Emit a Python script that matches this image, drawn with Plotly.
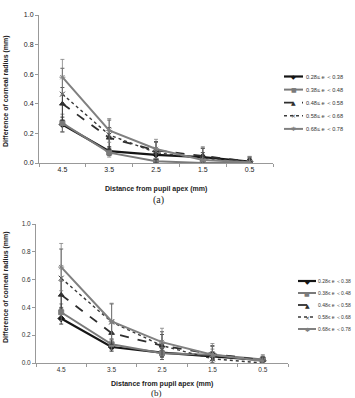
import plotly.graph_objects as go

categories = ["4.5", "3.5", "2.5", "1.5", "0.5"]
series_names = ["0.28≤ e ＜0.38", "0.38≤ e ＜0.48", "0.48≤ e ＜0.58", "0.58≤ e ＜0.68", "0.68≤ e ＜0.78"]

# panel (a)
a_s1 = [0.26, 0.08, 0.055, 0.04, 0.01]
a_s2 = [0.27, 0.07, 0.012, 0.0, 0.0]
a_s3 = [0.40, 0.17, 0.085, 0.05, 0.01]
a_s4 = [0.465, 0.19, 0.07, 0.03, 0.01]
a_s5 = [0.58, 0.22, 0.095, 0.02, 0.005]
a_e1 = [0.05, 0.03, 0.03, 0.03, 0.02]
a_e2 = [0.06, 0.03, 0.02, 0.02, 0.02]
a_e3 = [0.11, 0.07, 0.06, 0.05, 0.03]
a_e4 = [0.175, 0.10, 0.07, 0.07, 0.03]
a_e5 = [0.12, 0.08, 0.065, 0.09, 0.04]

# panel (b)
b_s1 = [0.32, 0.115, 0.075, 0.05, 0.02]
b_s2 = [0.365, 0.135, 0.07, 0.06, 0.025]
b_s3 = [0.49, 0.215, 0.125, 0.065, 0.02]
b_s4 = [0.61, 0.295, 0.125, 0.03, 0.0]
b_s5 = [0.69, 0.30, 0.15, 0.06, 0.015]
b_e1 = [0.04, 0.03, 0.03, 0.03, 0.02]
b_e2 = [0.06, 0.04, 0.03, 0.04, 0.02]
b_e3 = [0.10, 0.08, 0.08, 0.06, 0.03]
b_e4 = [0.21, 0.13, 0.10, 0.09, 0.04]
b_e5 = [0.17, 0.13, 0.10, 0.08, 0.045]

colors = ["#151515", "#7a7a7a", "#2e2e2e", "#3a3a3a", "#808080"]
dashes = ["solid", "solid", "dash", "dot", "solid"]
symbols = ["diamond", "square", "triangle-up", "x-thin-open", "asterisk-open"]
glyphs = ["◆", "■", "▲", "×", "✱"]
widths = [2.2, 2.0, 1.8, 1.4, 2.0]

W, H = 355, 398
def px(x): return x / W
def py(y): return 1 - y / H

fig = go.Figure()

def add_panel(vals, errs, xa, ya):
    for i, (v, e) in enumerate(zip(vals, errs)):
        fig.add_trace(go.Scatter(
            x=categories, y=v, name=series_names[i], mode="lines+markers",
            xaxis=xa, yaxis=ya, showlegend=False,
            line=dict(color=colors[i], width=widths[i], dash=dashes[i]),
            marker=dict(symbol=symbols[i], size=5, color=colors[i],
                        line=dict(color=colors[i], width=1)),
            error_y=dict(type="data", array=e, visible=True, color=colors[i],
                         thickness=0.8, width=2),
        ))

add_panel([a_s1, a_s2, a_s3, a_s4, a_s5], [a_e1, a_e2, a_e3, a_e4, a_e5], "x", "y")
add_panel([b_s1, b_s2, b_s3, b_s4, b_s5], [b_e1, b_e2, b_e3, b_e4, b_e5], "x2", "y2")

tickfont_a = dict(family="Liberation Sans", size=7, color="#222")
tickfont_b = dict(family="Liberation Sans", size=6.5, color="#333")
xcommon = dict(type="category", range=[-0.5, 4.5], showline=True, linecolor="#999",
               ticks="outside", tickson="boundaries", ticklen=3, tickcolor="#999",
               showgrid=False, zeroline=False, fixedrange=True)
ycommon = dict(range=[0, 1.0], dtick=0.2, tickformat=".1f", showline=True, linecolor="#999",
               ticks="outside", ticklen=3, tickcolor="#999", showgrid=False,
               zeroline=False, fixedrange=True)

fig.update_layout(
    width=W, height=H, margin=dict(l=0, r=0, t=0, b=0, autoexpand=False),
    paper_bgcolor="white", plot_bgcolor="white", showlegend=False,
    xaxis=dict(domain=[px(39), px(273)], anchor="y", tickfont=tickfont_a, **xcommon),
    yaxis=dict(domain=[py(163), py(15)], anchor="x", tickfont=tickfont_a, **ycommon),
    xaxis2=dict(domain=[px(36), px(288)], anchor="y2", tickfont=tickfont_b, **xcommon),
    yaxis2=dict(domain=[py(363), py(224)], anchor="x2", tickfont=tickfont_b, **ycommon),
)

# manual legends (compact, like the original figure)
def add_legend(x0, x1, xt, y0, pitch, fsize):
    for i, name in enumerate(series_names):
        yy = py(y0 + i * pitch)
        fig.add_shape(type="line", xref="paper", yref="paper",
                      x0=px(x0), x1=px(x1), y0=yy, y1=yy,
                      line=dict(color=colors[i], width=widths[i], dash=dashes[i]))
        fig.add_annotation(xref="paper", yref="paper", showarrow=False,
                           x=px((x0 + x1) / 2), y=yy, xanchor="center", yanchor="middle",
                           text=glyphs[i], font=dict(family="DejaVu Sans", size=6, color=colors[i]))
        fig.add_annotation(xref="paper", yref="paper", showarrow=False,
                           x=px(xt), y=yy, xanchor="left", yanchor="middle",
                           text=name, font=dict(family="Liberation Sans", size=fsize, color="#333"))

add_legend(284, 303, 304, 76.5, 13.1, 5.6)
add_legend(298, 316, 316, 281, 12.0, 5.0)

tfont = dict(family="Liberation Sans", size=7, color="#222")
ann = [
    dict(text="<b>Distance from pupil apex (mm)</b>", x=px(156), y=py(189), font=tfont),
    dict(text="<b>Difference of corneal radius (mm)</b>", x=px(6), y=py(91), textangle=-90, font=tfont),
    dict(text="(a)", x=px(158), y=py(200), font=dict(family="Liberation Serif", size=10, color="#222")),
    dict(text="<b>Distance from pupil apex (mm)</b>", x=px(162), y=py(384), font=tfont),
    dict(text="<b>Difference of corneal radius (mm)</b>", x=px(6), y=py(287), textangle=-90, font=tfont),
    dict(text="(b)", x=px(156), y=py(392.5), font=dict(family="Liberation Serif", size=9, color="#222")),
]
for a in ann:
    fig.add_annotation(xref="paper", yref="paper", showarrow=False,
                       xanchor="center", yanchor="middle", **a)

fig.write_html("out.html")
